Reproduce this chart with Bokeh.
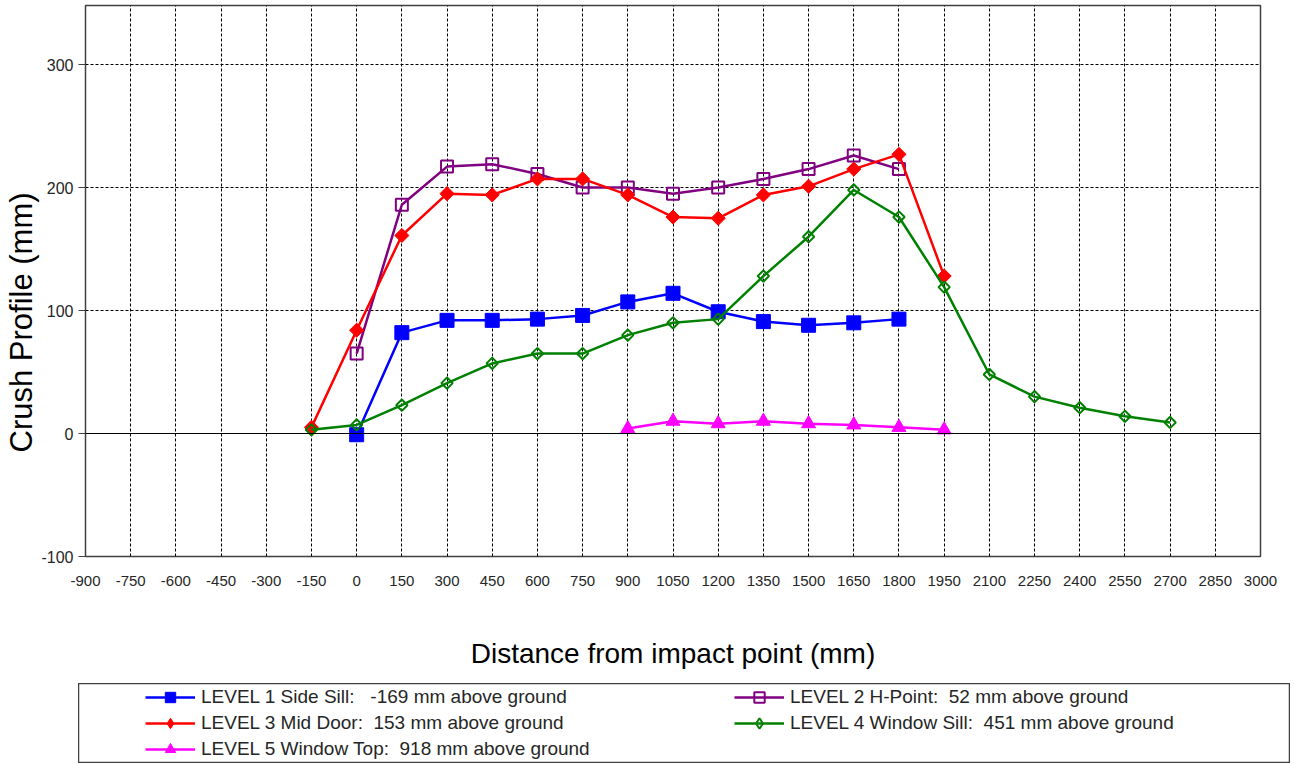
import math
from bokeh.plotting import figure
from bokeh.models import (FixedTicker, Span, Range1d, Legend, LegendItem, Spacer, Title,
                          PrintfTickFormatter)
from bokeh.layouts import column, row
from bokeh.embed import file_html
from bokeh.resources import INLINE

# ---- data ----
x_ticks = list(range(-900, 3001, 150))
y_ticks = [-100, 0, 100, 200, 300]

l1_label = "LEVEL 1 Side Sill:   -169 mm above ground"
l1_x = [0, 150, 300, 450, 600, 750, 900, 1050, 1200, 1350, 1500, 1650, 1800]
l1_y = [-1, 82, 92, 92, 93, 96, 107, 114, 99, 91, 88, 90, 93]

l2_label = "LEVEL 2 H-Point:  52 mm above ground"
l2_x = [0, 150, 300, 450, 600, 750, 900, 1050, 1200, 1350, 1500, 1650, 1800]
l2_y = [65, 186, 217, 219, 211, 200, 200, 195, 200, 207, 215, 226, 215]

l3_label = "LEVEL 3 Mid Door:  153 mm above ground"
l3_x = [-150, 0, 150, 300, 450, 600, 750, 900, 1050, 1200, 1350, 1500, 1650, 1800, 1950]
l3_y = [5, 84, 161, 195, 194, 207, 207, 194, 176, 175, 194, 201, 215, 227, 128]

l4_label = "LEVEL 4 Window Sill:  451 mm above ground"
l4_x = [-150, 0, 150, 300, 450, 600, 750, 900, 1050, 1200, 1350, 1500, 1650, 1800,
        1950, 2100, 2250, 2400, 2550, 2700]
l4_y = [3, 7, 23, 41, 57, 65, 65, 80, 90, 93, 128, 160, 198, 176, 119, 48, 30, 21, 14, 9]

l5_label = "LEVEL 5 Window Top:  918 mm above ground"
l5_x = [900, 1050, 1200, 1350, 1500, 1650, 1800, 1950]
l5_y = [4, 10, 8, 10, 8, 7, 5, 3]

x_title = "Distance from impact point (mm)"
y_title = "Crush Profile (mm)"

FONT = "Liberation Sans"
TXT = "#262626"

styles = [
    dict(label=l1_label, x=l1_x, y=l1_y, color="#0000FF", marker="square", size=14,
         fill=True, angle=0.0, lw=2.5, leg_marker="square"),
    dict(label=l2_label, x=l2_x, y=l2_y, color="#800080", marker="square", size=12,
         fill=False, angle=0.0, lw=2.5, leg_marker="square"),
    dict(label=l3_label, x=l3_x, y=l3_y, color="#FF0000", marker="square", size=10,
         fill=True, angle=math.pi / 4, lw=2.5, leg_marker="diamond"),
    dict(label=l4_label, x=l4_x, y=l4_y, color="#008000", marker="square", size=8,
         fill=False, angle=math.pi / 4, lw=2.5, leg_marker="diamond"),
    dict(label=l5_label, x=l5_x, y=l5_y, color="#FF00FF", marker="triangle", size=14,
         fill=True, angle=0.0, lw=2.5, leg_marker="triangle"),
]

p = figure(width=1295, height=683, output_backend="svg", toolbar_location=None,
           x_range=Range1d(-900, 3000), y_range=Range1d(-100, 348),
           min_border_left=85, min_border_right=35, min_border_top=5,
           min_border_bottom=127)
p.outline_line_color = "#404040"
p.outline_line_width = 1.5
p.background_fill_color = "white"
p.border_fill_color = "white"

p.xaxis.ticker = FixedTicker(ticks=x_ticks)
p.yaxis.ticker = FixedTicker(ticks=y_ticks)
p.xaxis.formatter = PrintfTickFormatter(format="%d")
p.yaxis.formatter = PrintfTickFormatter(format="%d")
p.xgrid.ticker = FixedTicker(ticks=x_ticks)
p.ygrid.ticker = FixedTicker(ticks=y_ticks)
p.grid.grid_line_color = "black"
p.grid.grid_line_dash = "3 2"
p.grid.grid_line_width = 1

for ax in (p.xaxis, p.yaxis):
    ax.axis_line_color = None
    ax.minor_tick_line_color = None
    ax.major_label_text_font = FONT
    ax.major_label_text_color = TXT
    ax.axis_label_text_font = FONT
    ax.axis_label_text_font_style = "normal"
    ax.axis_label_text_color = "black"

p.xaxis.major_label_text_font_size = "15px"
p.xaxis.major_tick_line_color = None
p.xaxis.major_label_standoff = 13
p.xaxis.axis_label = x_title
p.xaxis.axis_label_text_font_size = "28px"
p.xaxis.axis_label_standoff = 49

p.yaxis.major_label_text_font_size = "16px"
p.yaxis.major_tick_line_color = "#404040"
p.yaxis.major_tick_out = 7
p.yaxis.major_tick_in = 0
p.yaxis.major_label_standoff = 5
p.yaxis.axis_label = None

# y-axis title in the left panel, shifted up from the frame bottom like the reference
ytitle = Title(text=y_title, align="left", offset=104, standoff=0,
               text_font=FONT, text_font_size="31px", text_font_style="normal",
               text_color="black")
p.add_layout(ytitle, "left")

p.add_layout(Span(location=0, dimension="width", line_color="black", line_width=1.2))

for s in styles:
    p.line(s["x"], s["y"], line_color=s["color"], line_width=s["lw"])
    p.scatter(s["x"], s["y"], marker=s["marker"], size=s["size"], angle=s["angle"],
              line_color=s["color"], line_width=2 if not s["fill"] else 1,
              fill_color=s["color"] if s["fill"] else None)

# ---- legend panel ----
lg = figure(width=1212, height=80, output_backend="svg", toolbar_location=None,
            x_range=Range1d(0, 1), y_range=Range1d(0, 1),
            x_axis_type=None, y_axis_type=None, min_border=0)
lg.grid.visible = False
lg.outline_line_color = "#404040"
lg.outline_line_width = 1.5

items = []
for s in styles:
    # off-screen sample so the legend can draw each series' sample glyph
    lr = lg.line([-5, -4], [-5, -5], line_color=s["color"], line_width=s["lw"])
    sr = lg.scatter([-5], [-5], marker=s["leg_marker"],
                    line_color=s["color"], line_width=2 if not s["fill"] else 1,
                    fill_color=s["color"] if s["fill"] else None)
    items.append(LegendItem(label=s["label"], renderers=[lr, sr]))

legend = Legend(items=items, location=(67, 1), orientation="horizontal", ncols=2,
                padding=0, margin=0, spacing=0, glyph_width=50, glyph_height=26,
                label_height=20, label_width=533, label_standoff=6,
                border_line_color=None, background_fill_alpha=0,
                label_text_font=FONT, label_text_font_size="19px",
                label_text_color=TXT)
lg.add_layout(legend)

layout = column(p, row(Spacer(width=78), lg))
open("out.html", "w").write(file_html(layout, INLINE))
